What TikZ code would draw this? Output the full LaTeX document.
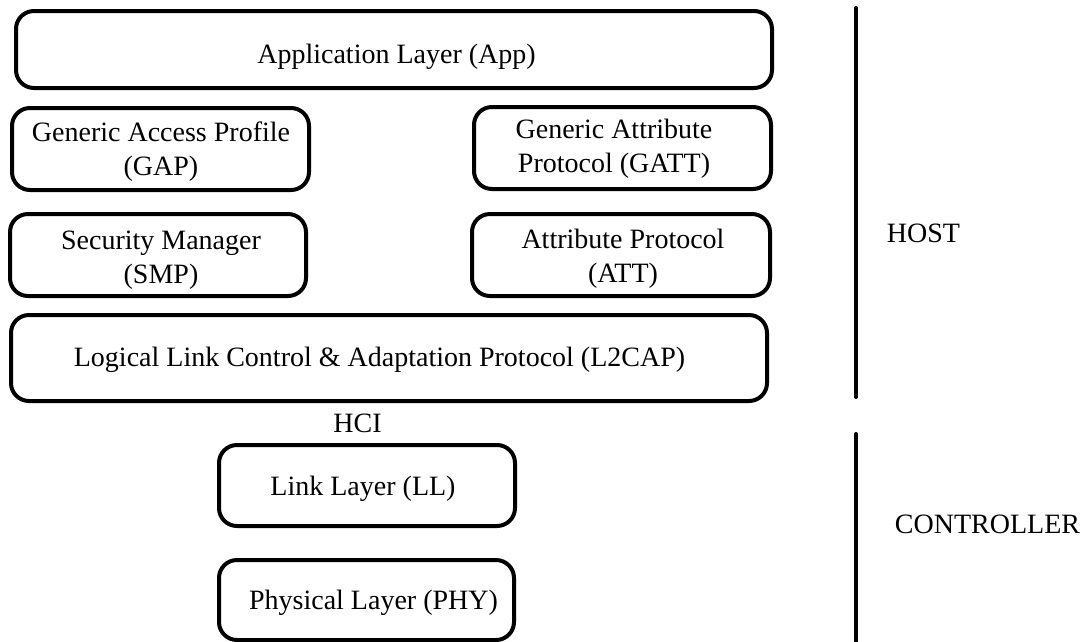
\documentclass[tikz,border=0pt]{standalone}
\usepackage{fontspec}
\setmainfont{Liberation Serif}
\begin{document}
\begin{tikzpicture}[x=1pt,y=-1pt,
  every node/.style={inner sep=0pt, outer sep=0pt},
  label text/.style={font=\fontsize{28}{34}\selectfont, align=center, anchor=base},
  layerbox/.style={draw, line width=4pt, rounded corners=18pt},
  sidebar/.style={line width=4pt, line cap=round}]
\useasboundingbox (0,0) rectangle (1086,641);

% host stack: frames
\node[layerbox, minimum width=756pt, minimum height=77pt] (app) at (394,49.5) {};
\node[layerbox, minimum width=297pt, minimum height=82pt] (gap) at (160.5,149) {};
\node[layerbox, minimum width=297pt, minimum height=82pt] (gatt) at (622.5,148) {};
\node[layerbox, minimum width=296pt, minimum height=82pt] (smp) at (158,255) {};
\node[layerbox, minimum width=298pt, minimum height=82pt] (att) at (621,255) {};
\node[layerbox, minimum width=756pt, minimum height=86pt] (l2cap) at (389,358) {};

% host stack: labels (anchored on the baseline of their last line)
\node[label text] (app-t) at (396.5,63) {Application Layer (App)};
\node[label text] (gap-t) at (161,175.5) {Generic Access Profile\\(GAP)};
\node[label text] (gatt-t) at (614,172) {Generic Attribute\\Protocol (GATT)};
\node[label text] (smp-t) at (161,283) {Security Manager\\(SMP)};
\node[label text] (att-t) at (623,282.5) {Attribute Protocol\\(ATT)};
\node[label text] (l2cap-t) at (379.5,366) {Logical Link Control \& Adaptation Protocol (L2CAP)};

% host/controller interface
\node[label text] (hci) at (357.5,432.5) {HCI};

% controller stack
\node[layerbox, minimum width=296pt, minimum height=81pt] (ll) at (367,485.5) {};
\node[layerbox, minimum width=295pt, minimum height=80pt] (phy) at (366.5,600) {};
\node[label text] (ll-t) at (363,495) {Link Layer (LL)};
\node[label text] (phy-t) at (373.5,609) {Physical Layer (PHY)};

% side brackets
\coordinate (hosttop) at (856,8);
\coordinate (hostbot) at (856,397);
\coordinate (ctrltop) at (856,434);
\coordinate (ctrlbot) at (856,645);
\draw[sidebar] (hosttop) -- (hostbot);
\draw[sidebar] (ctrltop) -- (ctrlbot);
\node[label text] (host) at (923.5,242) {HOST};
\node[label text] (ctrl) at (987.5,533) {CONTROLLER};
\end{tikzpicture}
\end{document}
